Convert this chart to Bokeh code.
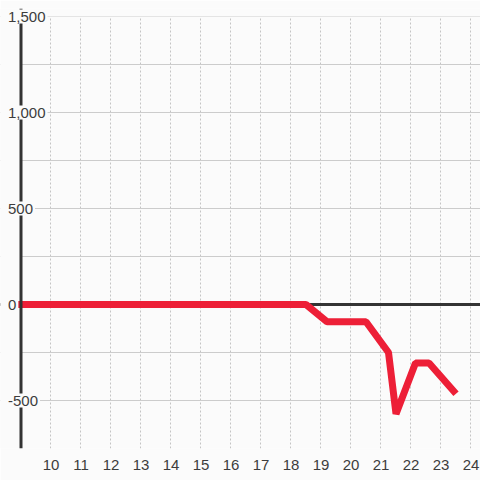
from bokeh.plotting import figure
from bokeh.models import (Span, FixedTicker, SingleIntervalTicker, Range1d,
                          BoxAnnotation, Grid, ColumnDataSource)
from bokeh.core.properties import value
from bokeh.embed import file_html
from bokeh.resources import INLINE

# ---- data ----
x_values = [8.9, 18.5, 19.2, 20.5, 21.25, 21.5, 22.15, 22.6, 23.5]
y_values = [0, 0, -90, -90, -250, -570, -305, -305, -465]
x_ticks = [10, 11, 12, 13, 14, 15, 16, 17, 18, 19, 20, 21, 22, 23, 24]
y_ticks = [1500, 1000, 500, 0, -500]
y_grid_step = 250
axis_x = 9
x_start, x_end = 8.31667, 24.31667
y_start, y_end = -750, 1541.67
y_top = 1500

BG = "#fbfbfb"
TXT = "#3d3d3d"
FONT = "Liberation Sans"

p = figure(width=480, height=480, output_backend="svg", toolbar_location=None,
           x_range=Range1d(x_start, x_end), y_range=Range1d(y_start, y_end),
           y_axis_location=None,
           min_border_left=0, min_border_right=0, min_border_top=8, min_border_bottom=32)
p.styles = {"position": "absolute", "left": "0px", "top": "0px"}
p.background_fill_color = BG
p.border_fill_color = BG
p.outline_line_color = None

# explicit grids
p.center = [r for r in p.center if not isinstance(r, Grid)]
xgrid = Grid(dimension=0, ticker=FixedTicker(ticks=x_ticks, minor_ticks=[]),
             grid_line_color="#c4c4c4", grid_line_dash="2 2", grid_line_width=1,
             minor_grid_line_color=None, level="underlay")
ygrid = Grid(dimension=1, ticker=SingleIntervalTicker(interval=y_grid_step, num_minor_ticks=0),
             grid_line_color="#cccccc", grid_line_width=1,
             minor_grid_line_color=None, level="underlay")
p.add_layout(xgrid)
p.add_layout(ygrid)

# x axis
p.xaxis.ticker = FixedTicker(ticks=x_ticks, minor_ticks=[])
p.xaxis.axis_line_color = None
p.xaxis.major_tick_line_color = None
p.xaxis.minor_tick_line_color = None
p.xaxis.major_label_standoff = 5
p.xaxis.major_label_text_font = FONT
p.xaxis.major_label_text_font_size = "15px"
p.xaxis.major_label_text_color = TXT

# zero line under the series
p.add_layout(Span(location=0, dimension="width", line_color="#333333",
                  line_width=3, level="underlay"))

# blank out grid left of the axis and above the top value
p.add_layout(BoxAnnotation(right=axis_x, fill_color=BG, fill_alpha=1,
                           line_color=None, level="underlay"))
p.add_layout(BoxAnnotation(bottom=y_top, top=y_end, fill_color=BG, fill_alpha=1,
                           line_color=None, level="underlay"))

# series
p.line(x_values, y_values, line_color="#ed1f37", line_width=7, line_join="bevel")

# y axis line over the series
p.add_layout(Span(location=axis_x, dimension="height", line_color="#333333", line_width=3))

# y tick labels with background on top
src = ColumnDataSource(dict(x=[axis_x] * len(y_ticks), y=y_ticks,
                            t=[f"{v:,}" for v in y_ticks]))
p.text(x="x", y="y", text="t", source=src, x_offset=-15,
       text_align="left", text_baseline="middle",
       text_font=value(FONT), text_font_size="15px", text_color=TXT,
       background_fill_color=BG, padding=2, level="overlay")

open("out.html", "w").write(file_html(p, INLINE))
